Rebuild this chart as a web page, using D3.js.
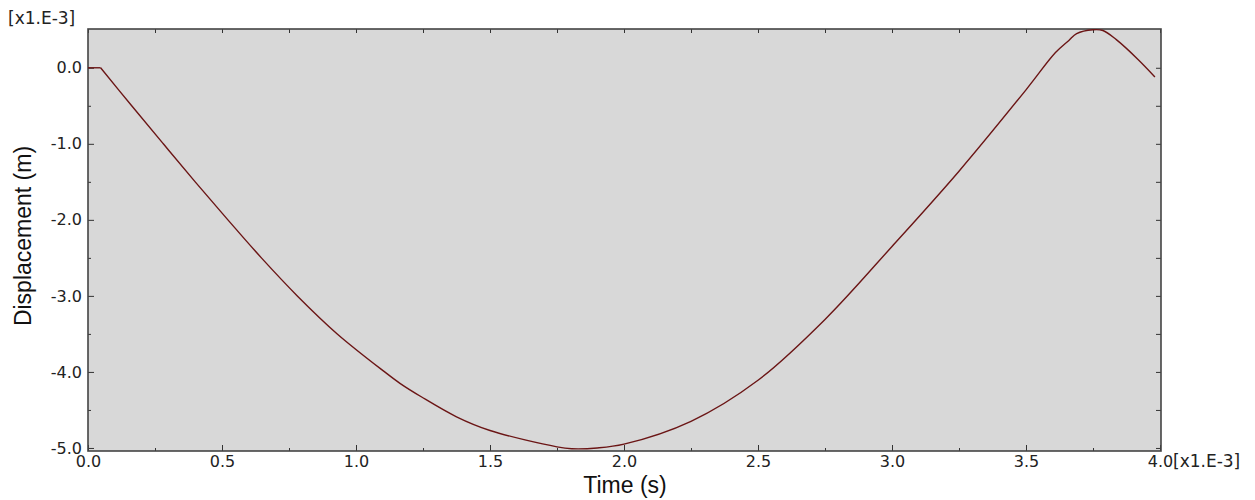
<!DOCTYPE html>
<html>
<head>
<meta charset="utf-8">
<title>Displacement vs Time</title>
<script src="https://cdn.jsdelivr.net/npm/d3@7/dist/d3.min.js"></script>
<style>
  body { margin: 0; background: #fff; }
  .tick text { font-family: "DejaVu Sans", Verdana, sans-serif; font-size: 16px; fill: #222; }
  .tick line { stroke: #333; }
</style>
</head>
<body>
<div id="chart"></div>
<script>
// time in ms (x1.E-3 s), displacement in mm (x1.E-3 m)
var timeVals = [0, 0.047, 0.163, 0.281, 0.40, 0.522, 0.647, 0.781, 0.93, 1.107, 1.164, 1.245,
                1.375, 1.50, 1.75, 1.805, 1.90, 2.00, 2.25, 2.50, 2.75, 3.00, 3.25, 3.50, 3.61,
                3.66, 3.689, 3.75, 3.787, 3.837, 3.918, 3.981];
var dispVals = [0, 0, -0.50, -1.00, -1.50, -2.00, -2.50, -3.00, -3.50, -4.00, -4.15, -4.33,
                -4.59, -4.77, -4.985, -5.01, -5.00, -4.95, -4.65, -4.11, -3.31, -2.35, -1.36, -0.29, 0.20,
                0.36, 0.45, 0.50, 0.49, 0.37, 0.11, -0.12];
var xMajor = [0, 0.5, 1.0, 1.5, 2.0, 2.5, 3.0, 3.5, 4.0];
var xMinor = [0.25, 0.75, 1.25, 1.75, 2.25, 2.75, 3.25, 3.75];
var yMajor = [0, -1, -2, -3, -4, -5];
var yMinor = [-0.5, -1.5, -2.5, -3.5, -4.5];

var W = 1255, H = 500;
var pLeft = 88, pRight = 1160, pTop = 29, pBottom = 451;

var svg = d3.select("#chart").append("svg")
    .attr("width", W).attr("height", H);

var x = d3.scaleLinear().domain([0, 4.0]).range([pLeft, pRight]);
var y = d3.scaleLinear().domain([-5.04, 0.51]).range([pBottom, pTop]);

// plot background
svg.append("rect")
    .attr("x", pLeft).attr("y", pTop)
    .attr("width", pRight - pLeft + 1).attr("height", pBottom - pTop)
    .attr("fill", "#d8d8d8");

var fmt = function(d) { return d3.format(".1f")(d).replace("−", "-"); };

// bottom axis: major with labels, minor without
svg.append("g").attr("transform", "translate(0," + pBottom + ")")
    .call(d3.axisBottom(x).tickValues(xMajor).tickSizeInner(-6).tickSizeOuter(0).tickPadding(5).tickFormat(fmt))
    .call(g => g.select(".domain").remove());
svg.append("g").attr("transform", "translate(0," + pBottom + ")")
    .call(d3.axisBottom(x).tickValues(xMinor).tickSizeInner(-3).tickSizeOuter(0).tickFormat(""))
    .call(g => g.select(".domain").remove());

// top axis ticks
svg.append("g").attr("transform", "translate(0," + pTop + ")")
    .call(d3.axisTop(x).tickValues(xMajor.concat(xMinor)).tickSizeInner(-4).tickSizeOuter(0).tickFormat(""))
    .call(g => g.select(".domain").remove());

// left axis
svg.append("g").attr("transform", "translate(" + pLeft + ",0)")
    .call(d3.axisLeft(y).tickValues(yMajor).tickSizeInner(-6).tickSizeOuter(0).tickPadding(6).tickFormat(fmt))
    .call(g => g.select(".domain").remove());
svg.append("g").attr("transform", "translate(" + pLeft + ",0)")
    .call(d3.axisLeft(y).tickValues(yMinor).tickSizeInner(-3).tickSizeOuter(0).tickFormat(""))
    .call(g => g.select(".domain").remove());

// right axis ticks
svg.append("g").attr("transform", "translate(" + (pRight + 1) + ",0)")
    .call(d3.axisRight(y).tickValues(yMajor.concat(yMinor)).tickSizeInner(-5).tickSizeOuter(0).tickFormat(""))
    .call(g => g.select(".domain").remove());

// frame
svg.append("rect")
    .attr("x", pLeft).attr("y", pTop)
    .attr("width", pRight - pLeft + 1).attr("height", pBottom - pTop)
    .attr("fill", "none").attr("stroke", "#444").attr("stroke-width", 1.6);

// curve: flat start drawn straight, the rest smoothed
var pts = timeVals.map(function(t, i) { return [t, dispVals[i]]; });
var flat = d3.line()
    .x(function(d) { return x(d[0]); })
    .y(function(d) { return y(d[1]); });
var smooth = d3.line()
    .x(function(d) { return x(d[0]); })
    .y(function(d) { return y(d[1]); })
    .curve(d3.curveCatmullRom.alpha(0.5));

svg.append("path")
    .datum(pts.slice(0, 2))
    .attr("d", flat)
    .attr("fill", "none")
    .attr("stroke", "#6b1515")
    .attr("stroke-width", 1.4);
svg.append("path")
    .datum(pts.slice(1))
    .attr("d", smooth)
    .attr("fill", "none")
    .attr("stroke", "#6b1515")
    .attr("stroke-width", 1.4);

// multiplier labels
svg.append("text")
    .attr("x", 8).attr("y", 24)
    .style("font-family", "'DejaVu Sans', Verdana, sans-serif").style("font-size", "17px").style("fill", "#222")
    .text("[x1.E-3]");
svg.append("text")
    .attr("x", 1173).attr("y", 467)
    .style("font-family", "'DejaVu Sans', Verdana, sans-serif").style("font-size", "17px").style("fill", "#222")
    .text("[x1.E-3]");

// axis titles
svg.append("text")
    .attr("x", 625).attr("y", 493)
    .attr("text-anchor", "middle")
    .style("font-family", "'Liberation Sans', Arial, sans-serif").style("font-size", "23px").style("fill", "#111")
    .text("Time (s)");
svg.append("text")
    .attr("transform", "translate(31,236) rotate(-90)")
    .attr("text-anchor", "middle")
    .style("font-family", "'Liberation Sans', Arial, sans-serif").style("font-size", "23px").style("fill", "#111")
    .text("Displacement (m)");
</script>
</body>
</html>
